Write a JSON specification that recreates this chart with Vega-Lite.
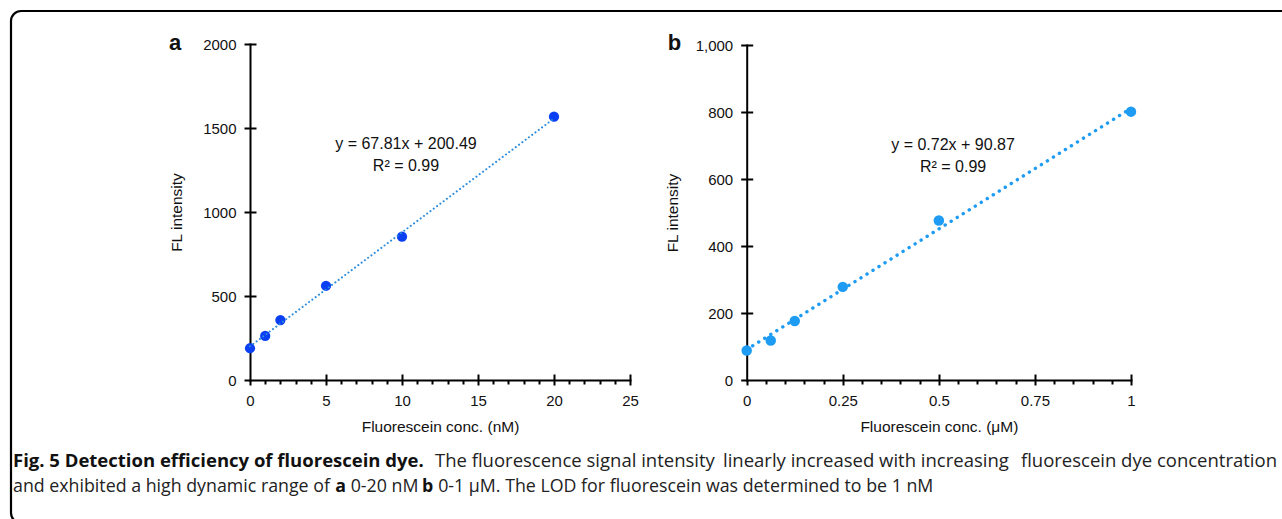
{
  "$schema": "https://vega.github.io/schema/vega-lite/v6.json",
  "width": 1291,
  "height": 512,
  "autosize": {"type": "none"},
  "padding": {"left": 11, "top": 11, "right": -20, "bottom": -4},
  "background": "white",
  "config": {
    "view": {"stroke": "black", "strokeWidth": 2.2, "cornerRadius": 10, "fill": null},
    "axis": {
      "domainColor": "black", "domainWidth": 2, "domainCap": "square",
      "tickColor": "black", "tickWidth": 2,
      "labelFont": "Liberation Sans", "labelFontSize": 15, "labelColor": "#111",
      "titleFont": "Liberation Sans", "titleFontSize": 15.5, "titleFontWeight": "normal", "titleColor": "#111",
      "grid": false, "labelFlush": false, "labelOverlap": false
    },
    "text": {"font": "Liberation Sans", "color": "#111"}
  },
  "resolve": {
    "scale": {"x": "independent", "y": "independent"},
    "axis": {"x": "independent", "y": "independent"}
  },
  "layer": [
    {
      "data": {"values": [
        {"conc": 0, "fl": 189}, {"conc": 1, "fl": 262}, {"conc": 2, "fl": 357},
        {"conc": 5, "fl": 561}, {"conc": 10, "fl": 853}, {"conc": 20, "fl": 1567}
      ]},
      "mark": {"type": "circle", "size": 105, "opacity": 1, "color": "#0b3ff3"},
      "encoding": {
        "x": {"field": "conc", "type": "quantitative",
          "scale": {"domain": [0, 25], "range": [239, 619], "nice": false, "zero": false},
          "axis": {"orient": "bottom", "offset": -143, "values": [0, 5, 10, 15, 20, 25], "tickSize": 5, "labelPadding": 8, "format": "d", "title": "Fluorescein conc. (nM)", "titlePadding": 11}},
        "y": {"field": "fl", "type": "quantitative",
          "scale": {"domain": [0, 2000], "range": [369, 33], "nice": false, "zero": false},
          "axis": {"orient": "left", "offset": -239, "values": [0, 500, 1000, 1500, 2000], "tickSize": 6, "labelPadding": 8, "format": "d", "title": "FL intensity", "titlePadding": 18}}
      }
    },
    {
      "data": {"values": [{"conc": 0, "fl": 200.49}, {"conc": 20, "fl": 1556.69}]},
      "mark": {"type": "line", "color": "#2a8bdc", "strokeWidth": 2, "strokeDash": [0.1, 4], "strokeCap": "round"},
      "encoding": {
        "x": {"field": "conc", "type": "quantitative",
          "scale": {"domain": [0, 25], "range": [239, 619], "nice": false, "zero": false},
          "axis": {"orient": "bottom", "offset": -143, "values": [1,2,3,4,6,7,8,9,11,12,13,14,16,17,18,19,21,22,23,24], "tickSize": 4, "labels": false, "domain": false, "title": null}},
        "y": {"field": "fl", "type": "quantitative",
          "scale": {"domain": [0, 2000], "range": [369, 33], "nice": false, "zero": false},
          "axis": {"orient": "left", "offset": -239, "values": [500, 1000, 1500, 2000], "tickSize": -6, "labels": false, "domain": false, "title": null}}
      }
    },
    {
      "data": {"values": [
        {"conc": 10.26, "fl": 1375, "label": "y = 67.81x + 200.49"},
        {"conc": 10.26, "fl": 1242, "label": "R² = 0.99"}
      ]},
      "mark": {"type": "text", "fontSize": 16, "align": "center", "baseline": "alphabetic"},
      "encoding": {
        "text": {"field": "label"},
        "x": {"field": "conc", "type": "quantitative",
          "scale": {"domain": [0, 25], "range": [239, 619], "nice": false, "zero": false},
          "axis": {"orient": "bottom", "offset": -143, "values": [5, 10, 15, 20, 25], "tickSize": -6, "labels": false, "domain": false, "title": null}},
        "y": {"field": "fl", "type": "quantitative",
          "scale": {"domain": [0, 2000], "range": [369, 33], "nice": false, "zero": false}, "axis": null}
      }
    },
    {
      "data": {"values": [{"conc": -4.93, "fl": 1964, "label": "a"}]},
      "mark": {"type": "text", "fontSize": 22, "fontWeight": "bold", "align": "center", "baseline": "alphabetic"},
      "encoding": {
        "text": {"field": "label"},
        "x": {"field": "conc", "type": "quantitative",
          "scale": {"domain": [0, 25], "range": [239, 619], "nice": false, "zero": false}, "axis": null},
        "y": {"field": "fl", "type": "quantitative",
          "scale": {"domain": [0, 2000], "range": [369, 33], "nice": false, "zero": false}, "axis": null}
      }
    },
    {
      "data": {"values": [
        {"conc": 0, "fl": 88}, {"conc": 0.0625, "fl": 118}, {"conc": 0.125, "fl": 176},
        {"conc": 0.25, "fl": 278}, {"conc": 0.5, "fl": 476}, {"conc": 1, "fl": 801}
      ]},
      "mark": {"type": "circle", "size": 110, "opacity": 1, "color": "#1e9cf3"},
      "encoding": {
        "x": {"field": "conc", "type": "quantitative",
          "scale": {"domain": [0, 1], "range": [735.7, 1120], "nice": false, "zero": false},
          "axis": {"orient": "bottom", "offset": -143, "values": [0, 0.25, 0.5, 0.75, 1], "tickSize": 5, "labelPadding": 8, "labelExpr": "toString(datum.value)", "title": "Fluorescein conc. (μM)", "titlePadding": 11}},
        "y": {"field": "fl", "type": "quantitative",
          "scale": {"domain": [0, 1000], "range": [369, 34], "nice": false, "zero": false},
          "axis": {"orient": "left", "offset": -735.7, "values": [0, 200, 400, 600, 800, 1000], "tickSize": 6, "labelPadding": 8, "labelExpr": "format(datum.value, ',')", "title": "FL intensity", "titlePadding": 15}}
      }
    },
    {
      "data": {"values": [{"conc": 0, "fl": 90.87}, {"conc": 1, "fl": 810.87}]},
      "mark": {"type": "line", "color": "#1e9cf3", "strokeWidth": 3.4, "strokeDash": [0.1, 7], "strokeCap": "round"},
      "encoding": {
        "x": {"field": "conc", "type": "quantitative",
          "scale": {"domain": [0, 1], "range": [735.7, 1120], "nice": false, "zero": false},
          "axis": {"orient": "bottom", "offset": -143, "values": [0.05,0.1,0.15,0.2,0.3,0.35,0.4,0.45,0.55,0.6,0.65,0.7,0.8,0.85,0.9,0.95], "tickSize": 4, "labels": false, "domain": false, "title": null}},
        "y": {"field": "fl", "type": "quantitative",
          "scale": {"domain": [0, 1000], "range": [369, 34], "nice": false, "zero": false},
          "axis": {"orient": "left", "offset": -735.7, "values": [200, 400, 600, 800, 1000], "tickSize": -6, "labels": false, "domain": false, "title": null}}
      }
    },
    {
      "data": {"values": [
        {"conc": 0.537, "fl": 688, "label": "y = 0.72x + 90.87"},
        {"conc": 0.537, "fl": 620, "label": "R² = 0.99"}
      ]},
      "mark": {"type": "text", "fontSize": 16, "align": "center", "baseline": "alphabetic"},
      "encoding": {
        "text": {"field": "label"},
        "x": {"field": "conc", "type": "quantitative",
          "scale": {"domain": [0, 1], "range": [735.7, 1120], "nice": false, "zero": false},
          "axis": {"orient": "bottom", "offset": -143, "values": [0.25, 0.5, 0.75, 1], "tickSize": -6, "labels": false, "domain": false, "title": null}},
        "y": {"field": "fl", "type": "quantitative",
          "scale": {"domain": [0, 1000], "range": [369, 34], "nice": false, "zero": false}, "axis": null}
      }
    },
    {
      "data": {"values": [{"conc": -0.188, "fl": 984, "label": "b"}]},
      "mark": {"type": "text", "fontSize": 22, "fontWeight": "bold", "align": "center", "baseline": "alphabetic"},
      "encoding": {
        "text": {"field": "label"},
        "x": {"field": "conc", "type": "quantitative",
          "scale": {"domain": [0, 1], "range": [735.7, 1120], "nice": false, "zero": false}, "axis": null},
        "y": {"field": "fl", "type": "quantitative",
          "scale": {"domain": [0, 1000], "range": [369, 34], "nice": false, "zero": false}, "axis": null}
      }
    },
    {
      "data": {"values": [{"t": "Fig. 5 Detection efficiency of fluorescein dye."}]},
      "mark": {"type": "text", "font": "Open Sans", "fontSize": 18.5, "fontWeight": "bold", "align": "left", "baseline": "alphabetic", "color": "#111"},
      "encoding": {"text": {"field": "t"}, "x": {"value": 2}, "y": {"value": 456}}
    },
    {
      "data": {"values": [{"t": "The fluorescence signal intensity"}]},
      "mark": {"type": "text", "font": "Open Sans", "fontSize": 18.5, "align": "left", "baseline": "alphabetic", "color": "#222"},
      "encoding": {"text": {"field": "t"}, "x": {"value": 424}, "y": {"value": 456}}
    },
    {
      "data": {"values": [{"t": "linearly increased with increasing"}]},
      "mark": {"type": "text", "font": "Open Sans", "fontSize": 18.5, "align": "left", "baseline": "alphabetic", "color": "#222"},
      "encoding": {"text": {"field": "t"}, "x": {"value": 712}, "y": {"value": 456}}
    },
    {
      "data": {"values": [{"t": "fluorescein dye concentration"}]},
      "mark": {"type": "text", "font": "Open Sans", "fontSize": 18.5, "align": "right", "baseline": "alphabetic", "color": "#222"},
      "encoding": {"text": {"field": "t"}, "x": {"value": 1266}, "y": {"value": 456}}
    },
    {
      "data": {"values": [{"t": "and exhibited a high dynamic range of"}]},
      "mark": {"type": "text", "font": "Open Sans", "fontSize": 17.8, "align": "left", "baseline": "alphabetic", "color": "#222"},
      "encoding": {"text": {"field": "t"}, "x": {"value": 2}, "y": {"value": 481}}
    },
    {
      "data": {"values": [{"t": "a"}]},
      "mark": {"type": "text", "font": "Open Sans", "fontSize": 17.8, "fontWeight": "bold", "align": "left", "baseline": "alphabetic", "color": "#111"},
      "encoding": {"text": {"field": "t"}, "x": {"value": 324.3}, "y": {"value": 481}}
    },
    {
      "data": {"values": [{"t": "0-20 nM"}]},
      "mark": {"type": "text", "font": "Open Sans", "fontSize": 17.8, "align": "left", "baseline": "alphabetic", "color": "#222"},
      "encoding": {"text": {"field": "t"}, "x": {"value": 339.7}, "y": {"value": 481}}
    },
    {
      "data": {"values": [{"t": "b"}]},
      "mark": {"type": "text", "font": "Open Sans", "fontSize": 17.8, "fontWeight": "bold", "align": "left", "baseline": "alphabetic", "color": "#111"},
      "encoding": {"text": {"field": "t"}, "x": {"value": 410.9}, "y": {"value": 481}}
    },
    {
      "data": {"values": [{"t": "0-1 µM. The LOD for fluorescein was determined to be 1 nM"}]},
      "mark": {"type": "text", "font": "Open Sans", "fontSize": 17.8, "align": "left", "baseline": "alphabetic", "color": "#222"},
      "encoding": {"text": {"field": "t"}, "x": {"value": 427.2}, "y": {"value": 481}}
    }
  ]
}
